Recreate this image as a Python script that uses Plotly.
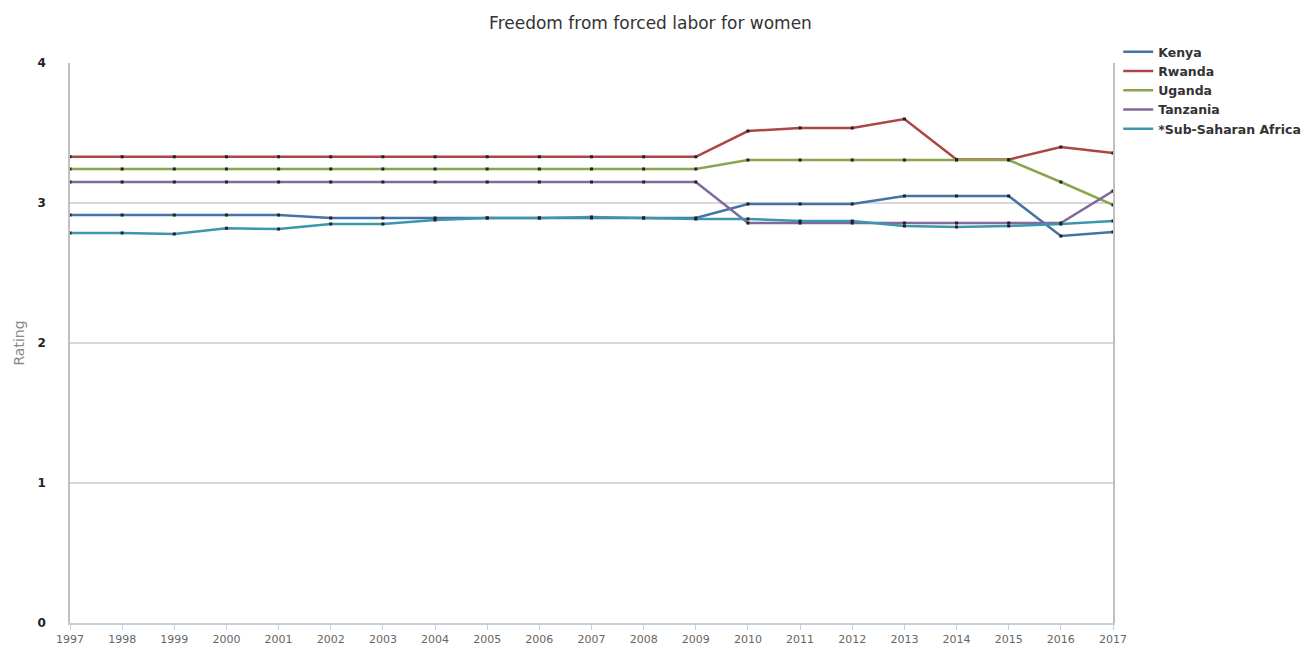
import plotly.graph_objects as go

years = list(range(1997, 2018))
kenya = [2.914, 2.914, 2.914, 2.914, 2.914, 2.893, 2.893, 2.893, 2.893, 2.893, 2.893, 2.893, 2.893,
         2.993, 2.993, 2.993, 3.05, 3.05, 3.05, 2.764, 2.793]
rwanda = [3.33] * 13 + [3.514, 3.536, 3.536, 3.6, 3.31, 3.31, 3.40, 3.357]
uganda = [3.243] * 13 + [3.307, 3.307, 3.307, 3.307, 3.307, 3.307, 3.15, 2.986]
tanzania = [3.15] * 13 + [2.857, 2.857, 2.857, 2.857, 2.857, 2.857, 2.857, 3.086]
ssa = [2.786, 2.786, 2.779, 2.82, 2.814, 2.85, 2.85, 2.879, 2.893, 2.893, 2.9, 2.893, 2.886,
       2.886, 2.871, 2.871, 2.836, 2.829, 2.836, 2.85, 2.871]

series = [
    ("Kenya", kenya, "#4572A7"),
    ("Rwanda", rwanda, "#AA4643"),
    ("Uganda", uganda, "#89A54E"),
    ("Tanzania", tanzania, "#80699B"),
    ("*Sub-Saharan Africa", ssa, "#3D96AE"),
]

fig = go.Figure()
for name, vals, col in series:
    fig.add_trace(go.Scatter(
        x=years, y=vals, name=name, mode="lines",
        line=dict(color=col, width=2.5), legendgroup=name,
    ))
for name, vals, col in series:
    fig.add_trace(go.Scatter(
        x=years, y=vals, name=name, mode="markers", showlegend=False, legendgroup=name,
        marker=dict(size=3, color="#222222", symbol="square"), hoverinfo="skip",
    ))

fig.update_layout(
    width=1301, height=648,
    paper_bgcolor="white", plot_bgcolor="white",
    margin=dict(l=70, r=188, t=63, b=25, autoexpand=False),
    title=dict(text="Freedom from forced labor for women", x=0.5, xanchor="center",
               y=1 - 23 / 648, yanchor="middle",
               font=dict(family="DejaVu Sans", size=17, color="#333333")),
    font=dict(family="DejaVu Sans"),
    showlegend=True,
    legend=dict(x=1.005, xanchor="left", y=1.046, yanchor="top",
                font=dict(family="DejaVu Sans", size=12.5, color="#333333", weight="bold"),
                itemwidth=30, tracegroupgap=0, bgcolor="rgba(0,0,0,0)"),
    xaxis=dict(range=[1997, 2017], tickmode="array", tickvals=years,
               ticktext=[str(y) for y in years], showgrid=False,
               showline=True, linecolor="#C0D0E0", linewidth=1.5,
               ticks="outside", ticklen=5, tickcolor="#C0D0E0",
               tickfont=dict(size=11, color="#666666"), zeroline=False, mirror=False),
    yaxis=dict(range=[0, 4], tickvals=[0, 1, 2, 3, 4], showgrid=True, gridcolor="#D8D8D8",
               gridwidth=1.5, showline=True, linecolor="#C0C0C0", linewidth=1.5, mirror=True,
               zeroline=False, ticks="", tickfont=dict(size=12, color="#222222", weight="bold"),
               ticklabelstandoff=20,
               title=dict(text="Rating", font=dict(size=14, color="#888888"), standoff=10)),
)
fig.write_html("out.html", config={"displayModeBar": False},
               post_script="document.body.style.margin='0';")
